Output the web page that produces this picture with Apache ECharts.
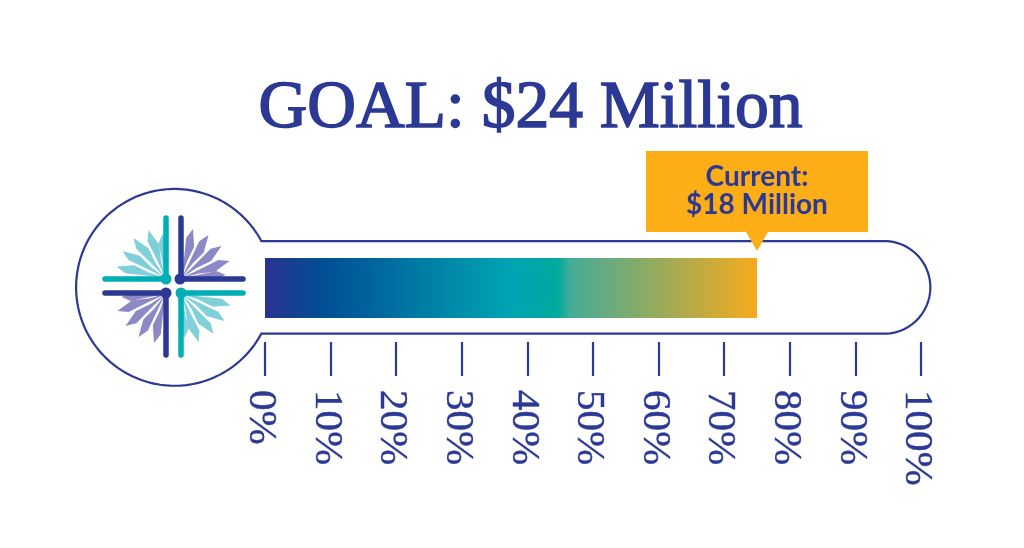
<!DOCTYPE html>
<html>
<head>
<meta charset="utf-8">
<style>html,body{margin:0;padding:0;background:#fff}#c{width:1024px;height:548px}</style>
<script src="https://cdn.jsdelivr.net/npm/echarts@6/dist/echarts.min.js"></script>
</head>
<body>
<div id="c"></div>
<script>
const titleText = 'GOAL: $24 Million';
const calloutText = 'Current:\n$18 Million';
const currentPercent = [75];
const tickValues = [0, 10, 20, 30, 40, 50, 60, 70, 80, 90, 100];

const NAVY = '#2b3894', TEAL = '#00aeb5', AMBER = '#fdae17';
const LIGHT = '#80d0d9', PURPLE = '#8c89c6';
const cx = 173.5, cy = 286;
const petalTips = [[-11, -52], [-25, -56], [-40, -48], [-51, -35], [-57, -19.5]];

function rot(p, k) {
  let [x, y] = p;
  for (let i = 0; i < k; i++) [x, y] = [-y, x];
  return [cx + x, cy + y];
}
function petal(tip, k, color) {
  const base = [-8, -8];
  const dx = tip[0] - base[0], dy = tip[1] - base[1];
  const len = Math.hypot(dx, dy), nx = -dy / len, ny = dx / len;
  const at = (t, w) => [base[0] + dx * t + nx * w, base[1] + dy * t + ny * w];
  const pts = [at(0, 0), at(0.35, 1.6), at(0.66, 5.2), tip, at(0.8, -4.6), at(0.42, -2.2)];
  return { type: 'polygon', z: 1, shape: { points: pts.map(p => rot(p, k)) }, style: { fill: color } };
}
const bar = (x1, y1, x2, y2, c) => ({
  type: 'line', z: 3, shape: { x1, y1, x2, y2 },
  style: { stroke: c, lineWidth: 5.5, lineCap: 'round' }
});
const dot = (x, y, c) => ({ type: 'circle', z: 4, shape: { cx: x, cy: y, r: 5.5 }, style: { fill: c } });

function arc(ox, oy, r, a0, a1, n) {
  const out = [];
  for (let i = 0; i <= n; i++) {
    const a = a0 + (a1 - a0) * i / n;
    out.push([ox + r * Math.cos(a), oy + r * Math.sin(a)]);
  }
  return out;
}
const bulbOpen = Math.atan2(46.35, 87.2);
const outline = [
  ...arc(884, 287.35, 46.35, -Math.PI / 2, Math.PI / 2, 48),
  ...arc(174.5, 287.35, 98.4, bulbOpen, 2 * Math.PI - bulbOpen, 160)
];

const logo = [];
[LIGHT, PURPLE, LIGHT, PURPLE].forEach((c, k) => petalTips.forEach(t => logo.push(petal(t, k, c))));
logo.push(
  bar(166, 218, 166, 279, TEAL), bar(105, 279, 166, 279, TEAL), dot(166, 279, TEAL),
  bar(181, 218, 181, 279, NAVY), bar(181, 279, 243, 279, NAVY), dot(180, 279, NAVY),
  bar(105, 293, 166, 293, NAVY), bar(166, 293, 166, 355, NAVY), dot(166, 293, NAVY),
  bar(181, 293, 181, 355, TEAL), bar(181, 293, 243, 293, TEAL), dot(181, 293, TEAL)
);

const chart = echarts.init(document.getElementById('c'), null, { renderer: 'canvas' });
chart.setOption({
  animation: false,
  backgroundColor: '#fff',
  title: {
    text: titleText, left: 525.5, top: 70, textAlign: 'center',
    textStyle: {
      fontFamily: 'Liberation Serif', fontSize: 67.5, fontWeight: 'normal', color: NAVY,
      textBorderColor: NAVY, textBorderWidth: 1.6
    }
  },
  grid: { left: 265, width: 656, top: 258, height: 60, containLabel: false },
  xAxis: {
    type: 'value', min: 0, max: 100, interval: 10, offset: 24,
    axisLine: { show: false },
    splitLine: { show: false },
    axisTick: { show: true, inside: false, length: 34, lineStyle: { color: NAVY, width: 2.2 } },
    axisLabel: {
      rotate: -90, margin: 48,
      showMinLabel: true, showMaxLabel: true, hideOverlap: false,
      formatter: v => tickValues.includes(v) ? '{t|' + v + '%}' : '',
      rich: {
        t: {
          fontFamily: 'Liberation Serif', fontSize: 41, color: NAVY,
          textBorderColor: NAVY, textBorderWidth: 0.4, padding: [8, 0, 0, 0]
        }
      }
    }
  },
  yAxis: { type: 'category', data: ['progress'], show: false },
  graphic: [
    {
      type: 'polygon', z: 0,
      shape: { points: outline },
      style: { fill: '#fff', stroke: NAVY, lineWidth: 2.2 }
    },
    ...logo
  ],
  series: [
    {
      type: 'bar', data: currentPercent, barWidth: 60, z: 2,
      itemStyle: {
        color: new echarts.graphic.LinearGradient(0, 0, 1, 0, [
          { offset: 0, color: '#2b3390' },
          { offset: 0.12, color: '#004f94' },
          { offset: 0.5, color: '#00a4b4' },
          { offset: 0.595, color: '#00a99d' },
          { offset: 0.62, color: '#45ab98' },
          { offset: 1, color: '#f5ab1c' }
        ])
      }
    },
    {
      type: 'custom', z: 5, data: currentPercent.map(v => [v]),
      encode: { x: 0 },
      renderItem: (params, api) => {
        const x = api.coord([api.value(0), 0])[0];
        return {
          type: 'group',
          children: [
            {
              type: 'polygon',
              shape: { points: [[x - 111, 151], [x + 111, 151], [x + 111, 232], [x + 11, 232], [x, 251], [x - 11, 232], [x - 111, 232]] },
              style: { fill: AMBER }
            },
            {
              type: 'text',
              style: {
                x, y: 190.5, text: calloutText, align: 'center', verticalAlign: 'middle',
                fontFamily: 'Lato', fontWeight: 'bold', fontSize: 28, lineHeight: 28, fill: NAVY
              }
            }
          ]
        };
      }
    }
  ]
});
</script>
</body>
</html>
